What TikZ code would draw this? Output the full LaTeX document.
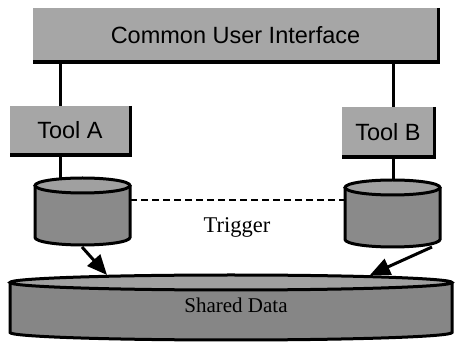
\documentclass[tikz,border=0pt]{standalone}
\usepackage{fontspec}
\setmainfont{Liberation Serif}
\setsansfont{Liberation Sans}
\usetikzlibrary{arrows.meta}
\definecolor{boxgray}{HTML}{A6A6A6}
\definecolor{cylgray}{HTML}{8A8A8A}
\definecolor{cyltop}{HTML}{A0A0A0}
\definecolor{datagray}{HTML}{868686}
\begin{document}
\begin{tikzpicture}[x=1pt,y=1pt,
  panel/.style={fill=boxgray, inner sep=0pt, font=\sffamily\fontsize{23.5}{25}\selectfont},
  shadowedge/.style={line width=3.4pt, black},
  conn/.style={line width=3pt},
  cyl/.style={line width=3pt, fill=cylgray},
  cyltopstyle/.style={line width=3pt, fill=cyltop},
  arr/.style={line width=3pt, -{Triangle[length=20pt,width=17pt]}},
  lbl/.style={inner sep=0pt}]
\useasboundingbox (0,0) rectangle (456,343);
% top bar
\node[panel, minimum width=405pt, minimum height=54pt] (cui) at (235.5,308) {Common User Interface};
\draw[shadowedge] (cui.north east) -- (cui.south east) -- (cui.south west);
% tool boxes
\node[panel, minimum width=120pt, minimum height=49pt] (toola) at (70,212.5) {Tool A};
\draw[shadowedge] (toola.north east) -- (toola.south east) -- (toola.south west);
\node[panel, minimum width=92pt, minimum height=50pt] (toolb) at (388,211) {Tool B};
\draw[shadowedge] (toolb.north east) -- (toolb.south east) -- (toolb.south west);
% cylinder A
\draw[cyl] (35,157.5) -- (35,105.5) arc[start angle=180,end angle=360,x radius=47.5,y radius=7.5] -- (130,157.5);
\draw[cyltopstyle] (82.5,157.5) ellipse[x radius=47.5,y radius=7.5];
\coordinate (cyla top) at (60,164.1);
\coordinate (cyla east) at (130,143);
\coordinate (cyla bottom) at (82,96);
% cylinder B
\draw[cyl] (345,155.5) -- (345,103.5) arc[start angle=180,end angle=360,x radius=47.5,y radius=7.5] -- (440,155.5);
\draw[cyltopstyle] (392.5,155.5) ellipse[x radius=47.5,y radius=7.5];
\coordinate (cylb top) at (393,163);
\coordinate (cylb west) at (345,143);
\coordinate (cylb bottom) at (432,96);
% shared data
\draw[line width=3pt, fill=datagray] (10,60.5) -- (10,10.5) arc[start angle=180,end angle=360,x radius=221,y radius=7.5] -- (452,60.5);
\draw[line width=3pt, fill=cyltop] (231,60.5) ellipse[x radius=221,y radius=7.5];
\node[lbl, font=\fontsize{21}{23}\selectfont] (shared) at (236,38) {Shared Data};
\coordinate (shared a) at (107,68);
\coordinate (shared b) at (370,68);
% connector x positions
\coordinate (xa) at (60,0);
\coordinate (xb) at (393,0);
% connectors
\draw[conn] (xa|-cui.south) -- (xa|-toola.north);
\draw[conn] (xb|-cui.south) -- (xb|-toolb.north);
\draw[conn] (xa|-toola.south) -- (cyla top);
\draw[conn] (xb|-toolb.south) -- (cylb top);
\draw[line width=2.6pt, dash pattern=on 7pt off 4pt] (cyla east) -- (cylb west);
\node[lbl, font=\fontsize{22.5}{25}\selectfont] (trigger) at (237,115.5) {Trigger};
\draw[arr] (cyla bottom) -- (shared a);
\draw[arr] (cylb bottom) -- (shared b);
\end{tikzpicture}
\end{document}
